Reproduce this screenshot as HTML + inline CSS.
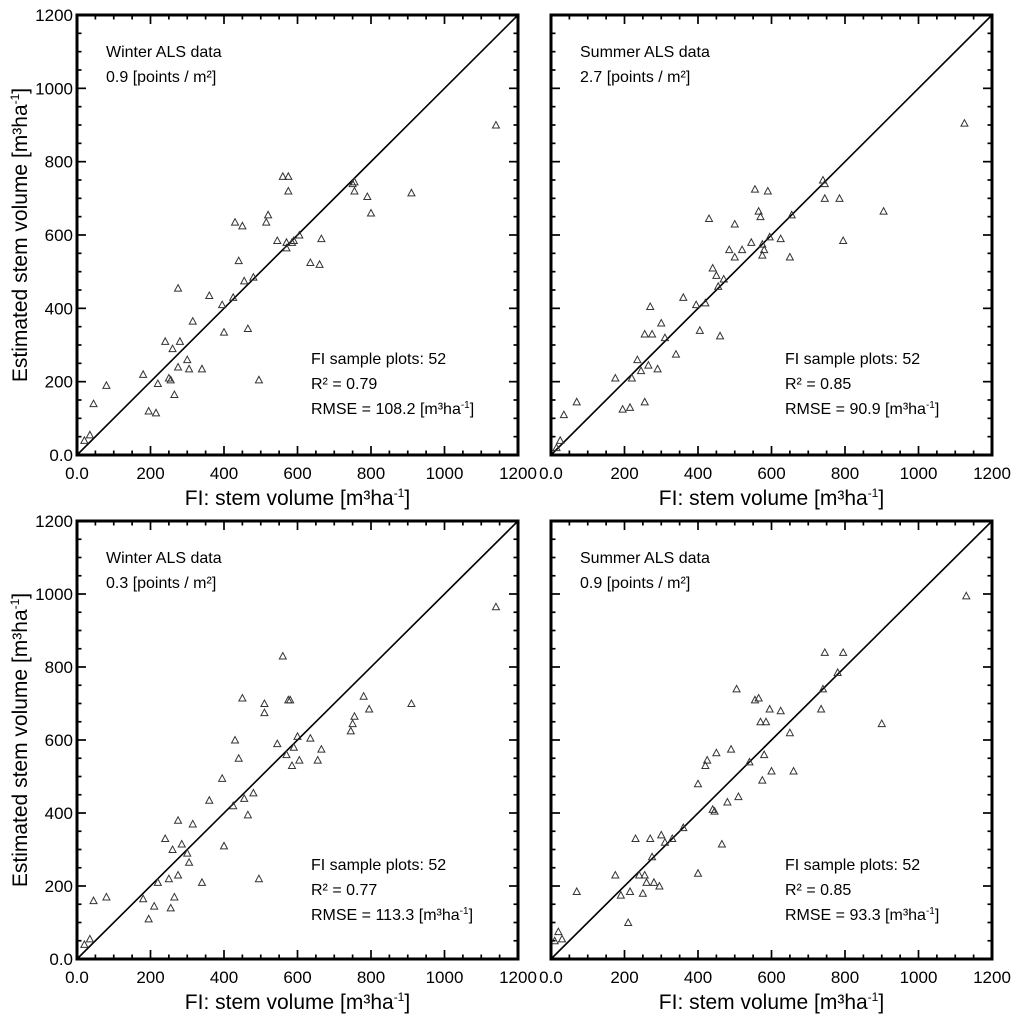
<!DOCTYPE html>
<html><head><meta charset="utf-8"><style>
body{margin:0;background:#fff;}
svg{display:block;font-family:"Liberation Sans",Arial,sans-serif;}
</style></head><body>
<svg id="fig" width="1024" height="1024" viewBox="0 0 1024 1024"></svg>
<script>
const tickValues=[0,200,400,600,800,1000,1200];
const tickLabels=["0.0","200","400","600","800","1000","1200"];
const titles1=["Winter ALS data","Summer ALS data","Winter ALS data","Summer ALS data"];
const density=["0.9","2.7","0.3","0.9"];
const r2=["0.79","0.85","0.77","0.85"];
const rmse=["108.2","90.9","113.3","93.3"];
const fiX_tl=[20,35,45,80,180,195,215,220,240,250,255,260,265,275,275,280,300,305,315,340,360,395,400,425,430,440,450,455,465,480,495,515,520,545,560,570,575,575,585,590,605,635,660,665,750,755,755,790,800,910,1140,570];
const est_tl=[40,55,140,190,220,120,115,195,310,210,205,290,165,455,240,310,260,235,365,235,435,410,335,430,635,530,625,475,345,485,205,635,655,585,760,565,760,720,580,585,600,525,520,590,740,745,720,705,660,715,900,580];
const fiX_tr=[15,25,35,70,175,195,215,220,235,245,255,255,265,270,275,290,300,310,340,360,395,405,420,430,440,450,455,460,470,485,500,500,520,545,555,565,570,575,580,590,595,625,650,655,740,745,745,785,795,905,1125,575];
const est_tr=[20,40,110,145,210,125,130,210,260,230,330,145,245,405,330,235,360,320,275,430,410,340,415,645,510,490,460,325,480,560,630,540,560,580,725,665,650,545,560,720,595,590,540,655,750,740,700,700,585,665,905,575];
const fiX_bl=[20,35,45,80,180,195,210,220,240,250,255,260,265,275,275,285,300,305,315,340,360,395,400,425,430,440,450,455,465,480,495,510,510,545,560,570,575,580,585,590,605,600,635,655,665,745,750,755,780,795,910,1140];
const est_bl=[40,55,160,170,165,110,145,210,330,220,140,300,170,230,380,315,290,265,370,210,435,495,310,420,600,550,715,440,395,455,220,700,675,590,830,560,710,710,530,580,545,610,605,545,575,625,645,665,720,685,700,965];
const fiX_br=[10,20,30,70,175,190,210,215,230,240,250,255,260,270,275,280,295,300,310,330,360,400,400,420,425,440,445,450,465,480,490,505,510,540,555,565,570,575,580,585,595,600,625,650,660,735,740,745,780,795,900,1130];
const est_br=[50,75,55,185,230,175,100,185,330,230,180,230,210,330,280,210,200,340,320,330,360,235,480,530,545,410,405,565,315,430,575,740,445,540,710,715,650,490,560,650,685,515,680,620,515,685,740,840,785,840,645,995];
const panels=[
 {x0:77,y0:15,x1:518,y1:455,xs:fiX_tl,ys:est_tl,name:'winter-0-9'},
 {x0:551,y0:15,x1:992,y1:455,xs:fiX_tr,ys:est_tr,name:'summer-2-7'},
 {x0:77,y0:521,x1:518,y1:959,xs:fiX_bl,ys:est_bl,name:'winter-0-3'},
 {x0:551,y0:521,x1:992,y1:959,xs:fiX_br,ys:est_br,name:'summer-0-9'}];
const NS='http://www.w3.org/2000/svg';
const svg=document.getElementById('fig');
function mk(tag,attrs,parent,text){const e=document.createElementNS(NS,tag);for(const k in attrs)e.setAttribute(k,attrs[k]);if(text!==undefined)e.innerHTML=text;(parent||svg).appendChild(e);return e;}
panels.forEach((p,i)=>{
 const g=mk('g',{});
 
 
 const sx=v=>p.x0+v/1200*(p.x1-p.x0);
 const sy=v=>p.y1-v/1200*(p.y1-p.y0);
 for(let v=0;v<=1200;v+=50){
  const L=(v%200===0)?9:4.5;
  const X=sx(v),Y=sy(v);
  mk('line',{x1:X,y1:p.y1,x2:X,y2:p.y1-L,stroke:'#000','stroke-width':1.7},g);
  mk('line',{x1:X,y1:p.y0,x2:X,y2:p.y0+L,stroke:'#000','stroke-width':1.7},g);
  mk('line',{x1:p.x0,y1:Y,x2:p.x0+L,y2:Y,stroke:'#000','stroke-width':1.7},g);
  mk('line',{x1:p.x1,y1:Y,x2:p.x1-L,y2:Y,stroke:'#000','stroke-width':1.7},g);
 }
 tickValues.forEach((v,k)=>{
  const t=mk('text',{x:sx(v),y:p.y1+24,'font-size':17,'text-anchor':'middle'},g,tickLabels[k]);
  
  
  if(i%2===0){
   const t2=mk('text',{x:p.x0-4,y:sy(v)+6,'font-size':17,'text-anchor':'end'},g,tickLabels[k]);
   
   
  }
 });
 const ln=mk('line',{x1:sx(0),y1:sy(0),x2:sx(1200),y2:sy(1200),stroke:'#000','stroke-width':1.6},g);
 
 
 p.xs.forEach((xv,k)=>{
  const X=sx(xv),Y=sy(p.ys[k]);
  const tr=mk('polygon',{points:`${X-3.5},${Y+3} ${X+3.5},${Y+3} ${X},${Y-3.5}`,fill:'none',stroke:'#333','stroke-width':1},g);
  
  
 });
 const box=mk('rect',{x:p.x0,y:p.y0,width:p.x1-p.x0,height:p.y1-p.y0,fill:'none',stroke:'#000','stroke-width':3},g);
 
 
 const a=mk('text',{x:p.x0+29,y:p.y0+42,'font-size':16},g,titles1[i]);
 
 
 const b=mk('text',{x:p.x0+29,y:p.y0+67,'font-size':16},g,density[i]+' [points / m²]');
 
 
 const c=mk('text',{x:p.x0+234,y:p.y0+349,'font-size':16},g,'FI sample plots: 52');
 
 
 const d=mk('text',{x:p.x0+234,y:p.y0+374,'font-size':16},g,'R² = '+r2[i]);
 
 
 const e=mk('text',{x:p.x0+234,y:p.y0+399,'font-size':16},g,'RMSE = '+rmse[i]+' [m³ha<tspan font-size="10" dy="-6">-1</tspan><tspan dy="6">]</tspan>');
 
 
 const xt=mk('text',{x:(p.x0+p.x1)/2,y:p.y1+50,'font-size':21,'text-anchor':'middle'},g,'FI: stem volume [m³ha<tspan font-size="12" dy="-8">-1</tspan><tspan dy="8">]</tspan>');
 
 
 if(i%2===0){
  const cy=(p.y0+p.y1)/2;
  const yt=mk('text',{x:0,y:0,'font-size':21,'text-anchor':'middle',transform:`translate(27,${cy}) rotate(-90)`},g,'Estimated stem volume [m³ha<tspan font-size="12" dy="-8">-1</tspan><tspan dy="8">]</tspan>');
  
  
 }
});
</script>
</body></html>
